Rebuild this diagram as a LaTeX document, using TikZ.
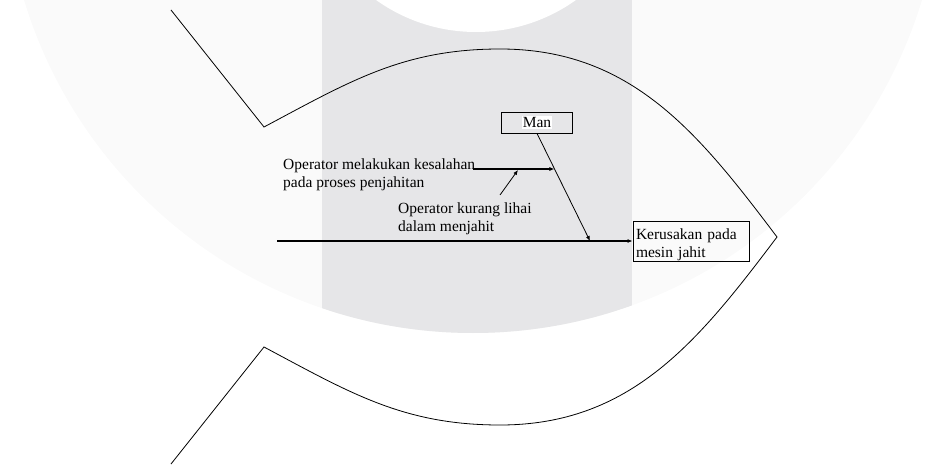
\documentclass[tikz,border=0pt]{standalone}
\usepackage{fontspec}
\setmainfont{Liberation Serif}
\usetikzlibrary{arrows.meta,positioning,calc}
\definecolor{markgray}{RGB}{230,230,232}
\definecolor{markfaint}{RGB}{250,250,250}
\tikzset{
    fish/.style={line width=0.8pt},
    bone/.style={-{Latex[length=5pt,width=4pt]},line width=1.2pt},
    rib/.style={-{Latex[length=5pt,width=4pt]},line width=0.8pt},
    effectbox/.style={draw,line width=0.8pt,minimum width=116pt,minimum height=40pt,text width=110pt,text depth=14pt,inner sep=3pt,align=left},
    causebox/.style={draw,line width=0.8pt,minimum width=71pt,minimum height=21pt,inner sep=0pt},
    cause/.style={inner sep=0pt,align=left}
}
\newcommand{\whitebg}[1]{{\setlength{\fboxsep}{1pt}\colorbox{white}{#1}}}

\begin{document}
\begin{tikzpicture}[x=1pt,y=-1pt,font=\fontsize{15.5}{18}\selectfont]

                \useasboundingbox (0,0) rectangle (934,465);
                \begin{scope}
                    \clip (0,0) rectangle (934,465);
                    \fill[markfaint] (473,-136) circle (469pt);
                    \clip (473,-136) circle (469pt);
                    \fill[markgray] (322,0) rectangle (632,465);
                    \fill[white] (476,-140) circle (172pt);
                \end{scope}

                \draw[fish] (171,10) -- (264,127) to[out=28,in=180] (500,49) to[out=0,in=127] (777,237)
                    to[out=-127,in=0] (500,425) to[out=180,in=-28] (264,347) -- (171,464);

                \node[effectbox] (effect) at (691,241) {Kerusakan pada\\mesin jahit};
                \node[causebox]  (man)    at (537,122.5) {\whitebg{Man}};
                \node[cause]     (melakukan) [anchor=north west] at (283,158.5) {Operator melakukan kesalahan\\pada proses penjahitan};
                \node[cause]     (lihai)     [anchor=north west] at (398,202.5) {Operator kurang lihai\\dalam menjahit};

                \coordinate (spine start) at (277,241);
                \coordinate (man joint)   at (590,241);
                \coordinate (sub joint)   at ($(man.south)!0.33!(man joint)$);
                \coordinate (sub start)   at (473,169);
                \coordinate (lihai root)  at (500,195);
                \coordinate (lihai tip)   at (518,170);

                \draw[bone] (spine start) -- (effect.west);
                \draw[rib]  (man.south) -- (man joint);
                \draw[bone] (sub start) -- (sub start -| sub joint);
                \draw[rib]  (lihai root) -- (lihai tip);

            \end{tikzpicture}
\end{document}
